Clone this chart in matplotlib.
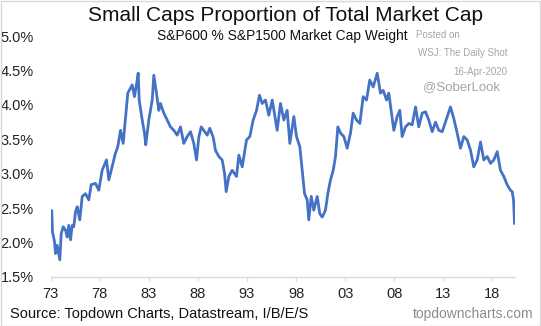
import matplotlib
matplotlib.use("Agg")
import matplotlib.pyplot as plt
from matplotlib.patches import Rectangle

plt.rcParams['font.family'] = ['Liberation Sans', 'DejaVu Sans']

# S&P600 weight in S&P1500 (%)
years = [
    1973.13, 1973.20, 1973.41, 1973.51, 1973.68, 1973.95, 1974.09, 1974.29, 1974.53, 1974.70,
    1974.86, 1975.04, 1975.21, 1975.37, 1975.55, 1975.72, 1975.98, 1976.23, 1976.56, 1976.90,
    1977.14, 1977.58, 1977.92, 1978.26, 1978.70, 1978.94, 1979.18, 1979.62, 1979.85, 1980.13,
    1980.40, 1980.74, 1980.87, 1981.32, 1981.55, 1981.76, 1981.93, 1982.03, 1982.34, 1982.57,
    1982.70, 1983.01, 1983.36, 1983.52, 1983.79, 1984.03, 1984.20, 1984.54, 1984.88, 1985.22,
    1985.56, 1985.90, 1986.24, 1986.57, 1986.92, 1987.26, 1987.59, 1987.87, 1988.10, 1988.35,
    1988.61, 1988.96, 1989.22, 1989.57, 1989.80, 1990.14, 1990.48, 1990.72, 1990.89, 1991.16,
    1991.50, 1991.94, 1992.18, 1992.52, 1992.96, 1993.30, 1993.64, 1993.98, 1994.28, 1994.56,
    1994.89, 1995.23, 1995.58, 1995.91, 1996.08, 1996.42, 1996.76, 1997.10, 1997.37, 1997.78,
    1998.05, 1998.39, 1998.63, 1998.87, 1999.14, 1999.30, 1999.55, 1999.81, 2000.16, 2000.42,
    2000.67, 2001.00, 2001.24, 2001.51, 2001.79, 2002.02, 2002.26, 2002.53, 2002.87, 2003.21,
    2003.55, 2003.82, 2004.16, 2004.50, 2004.84, 2005.18, 2005.51, 2005.86, 2006.27, 2006.60,
    2006.88, 2007.22, 2007.45, 2007.69, 2007.96, 2008.30, 2008.57, 2008.81, 2009.15, 2009.49,
    2009.83, 2010.17, 2010.50, 2010.85, 2011.19, 2011.52, 2011.87, 2012.21, 2012.54, 2012.89,
    2013.22, 2013.73, 2014.07, 2014.41, 2014.75, 2015.09, 2015.43, 2015.77, 2016.10, 2016.45,
    2016.79, 2017.12, 2017.47, 2017.81, 2018.14, 2018.49, 2018.82, 2019.16, 2019.50, 2019.84,
    2020.01, 2020.15, 2020.25,
]
weight = [
    2.46, 2.16, 2.01, 1.84, 1.96, 1.75, 2.13, 2.23, 2.18, 2.08,
    2.25, 2.04, 2.25, 2.23, 2.45, 2.52, 2.33, 2.67, 2.71, 2.62,
    2.84, 2.86, 2.76, 3.05, 3.20, 2.91, 3.05, 3.30, 3.39, 3.63,
    3.44, 3.97, 4.17, 4.29, 4.12, 4.30, 4.46, 4.07, 3.78, 3.59,
    3.42, 3.78, 4.07, 4.43, 4.17, 3.92, 4.02, 3.88, 3.78, 3.68,
    3.63, 3.56, 3.68, 3.44, 3.54, 3.61, 3.44, 3.20, 3.53, 3.68,
    3.63, 3.56, 3.66, 3.53, 3.34, 3.25, 3.20, 3.01, 2.74, 2.96,
    3.05, 2.96, 3.27, 3.10, 3.49, 3.54, 3.78, 3.92, 4.14, 4.02,
    4.07, 3.85, 4.07, 3.78, 3.63, 4.02, 3.78, 3.92, 3.44, 3.83,
    3.54, 3.39, 3.05, 2.71, 2.62, 2.33, 2.67, 2.47, 2.67, 2.42,
    2.37, 2.47, 2.71, 2.91, 3.05, 3.25, 3.68, 3.59, 3.54, 3.37,
    3.59, 3.88, 3.78, 3.73, 4.12, 4.07, 4.36, 4.26, 4.46, 4.17,
    4.21, 4.07, 4.17, 3.92, 3.63, 3.83, 3.92, 3.54, 3.68, 3.73,
    3.71, 3.97, 3.68, 3.88, 3.90, 3.78, 3.61, 3.75, 3.63, 3.61,
    3.75, 3.97, 3.80, 3.59, 3.37, 3.54, 3.49, 3.34, 3.10, 3.20,
    3.46, 3.20, 3.25, 3.15, 3.20, 3.32, 3.05, 2.96, 2.84, 2.76,
    2.74, 2.62, 2.28,
]
tick_years = [1973, 1978, 1983, 1988, 1993, 1998, 2003, 2008, 2013, 2018]
tick_labels = ['73', '78', '83', '88', '93', '98', '03', '08', '13', '18']
y_ticks = [1.5, 2.0, 2.5, 3.0, 3.5, 4.0, 4.5, 5.0]

W, H = 541, 326
fig = plt.figure(figsize=(W / 100, H / 100), dpi=100)
ax = fig.add_axes([50.5 / W, (H - 277) / H, (515 - 50.5) / W, (277 - 36) / H])

ax.plot(years, weight, color='#4472C4', linewidth=2.0)

ax.set_xlim(1973, 2020.3)
ax.set_ylim(1.5, 5.0)
ax.set_xticks(tick_years)
ax.set_xticklabels(tick_labels)
ax.set_yticks(y_ticks)
ax.set_yticklabels(['%.1f%%' % v for v in y_ticks])

for s in ['top', 'right', 'left']:
    ax.spines[s].set_visible(False)
ax.spines['bottom'].set_color('#d9d9d9')
ax.spines['bottom'].set_linewidth(1.0)
ax.tick_params(axis='x', length=3, color='#d9d9d9', labelsize=10.5, pad=4, labelcolor='#222222')
ax.tick_params(axis='y', length=0, labelsize=10.5, pad=12, labelcolor='#222222')

# titles and annotations
fig.text(286 / W, 1 - 15.5 / H, 'Small Caps Proportion of Total Market Cap',
         ha='center', va='center', fontsize=15, color='#111111')
fig.text(282 / W, 1 - 36 / H, 'S&P600 % S&P1500 Market Cap Weight',
         ha='center', va='center', fontsize=9.9, color='#111111')
fig.text(416 / W, 1 - 35.5 / H, 'Posted on', ha='left', va='center', fontsize=7, color='#a6a6a6')
fig.text(507 / W, 1 - 53.5 / H, 'WSJ: The Daily Shot', ha='right', va='center', fontsize=7, color='#a6a6a6')
fig.text(507 / W, 1 - 72.5 / H, '16-Apr-2020', ha='right', va='center', fontsize=7, color='#a6a6a6')
fig.text(423 / W, 1 - 87 / H, '@SoberLook', ha='left', va='center', fontsize=9.5, color='#a6a6a6')
fig.text(10 / W, 1 - 314 / H, 'Source: Topdown Charts, Datastream, I/B/E/S',
         ha='left', va='center', fontsize=10.5, color='#111111')
fig.text(533 / W, 1 - 314 / H, 'topdowncharts.com', ha='right', va='center', fontsize=10, color='#8c8c8c')

# light border around the image
fig.patches.append(Rectangle((0.5 / W, 0.5 / H), 1 - 1.5 / W, 1 - 1.5 / H, transform=fig.transFigure,
                             fill=False, edgecolor='#d9d9d9', linewidth=1))

fig.savefig('out.png', dpi=100)
